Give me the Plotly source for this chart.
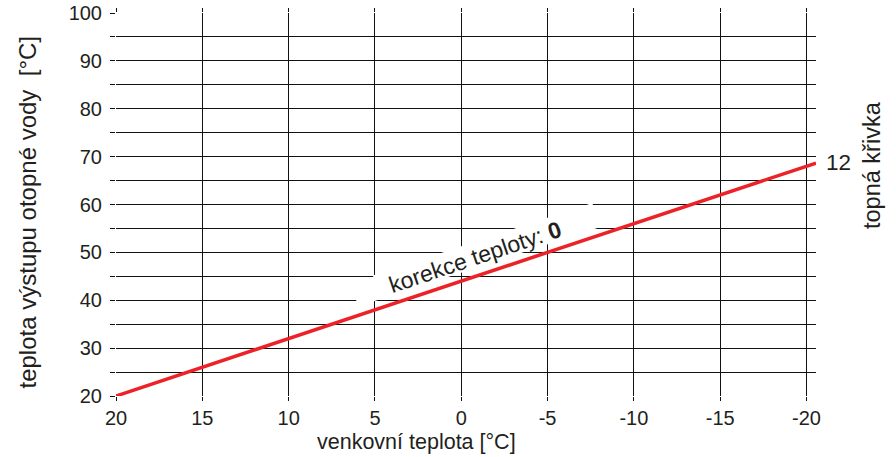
import plotly.graph_objects as go

# Heizkurve 12, Korrektur 0
venkovni = [20, -20.55]
vystup = [20, 68.66]

x_ticks = [20, 15, 10, 5, 0, -5, -10, -15, -20]
x_labels = ["20", "15", "10", "5", "0", "-5", "-10", "-15", "-20"]
y_ticks = [20, 25, 30, 35, 40, 45, 50, 55, 60, 65, 70, 75, 80, 85, 90, 95, 100]
y_labels = ["20", "", "30", "", "40", "", "50", "", "60", "", "70", "", "80", "", "90", "", "100"]

krivka = "12"
korekce = "0"

FONT = "Liberation Sans, Arial, sans-serif"
GRID = "#111111"
TXT = "#231f20"

L, R, T, B = 116, 80, 13, 61
W, H = 896, 457


def to_paper(px, py):
    # Bildpixel -> paper-Koordinaten der Zeichenfläche
    return (px - L) / (W - L - R), 1 - (py - T) / (H - T - B)


fig = go.Figure()
fig.add_trace(go.Scatter(
    x=venkovni, y=vystup, mode="lines",
    line=dict(color="#ec2227", width=3.5),
    hoverinfo="skip", showlegend=False,
))

# weisser Hintergrund hinter dem Beschriftungstext (zwischen Gitter und Linie)
fig.add_shape(
    type="path",
    path="M 5.04 45.27 L -7.59 60.31 L -8.06 55.30 L 6.43 38.17 Z",
    xref="x", yref="y",
    fillcolor="white", line=dict(width=0),
    layer="between",
)

fig.add_annotation(
    x=-0.8, y=49.0, xref="x", yref="y",
    text="korekce teploty: <b>" + korekce + "</b>",
    textangle=-18.6, showarrow=False,
    font=dict(family=FONT, size=23, color=TXT),
    xanchor="center", yanchor="middle",
)

px, py = to_paper(824, 163)
fig.add_annotation(
    x=px, y=py, xref="paper", yref="paper",
    text=krivka, showarrow=False, xanchor="left", yanchor="middle",
    font=dict(family=FONT, size=22.5, color=TXT),
)
px, py = to_paper(872, 165)
fig.add_annotation(
    x=px, y=py, xref="paper", yref="paper",
    text="topná křivka", textangle=-90, showarrow=False,
    xanchor="center", yanchor="middle",
    font=dict(family=FONT, size=23.5, color=TXT),
)
px, py = to_paper(416, 442)
fig.add_annotation(
    x=px, y=py, xref="paper", yref="paper",
    text="venkovní teplota [°C]", showarrow=False,
    xanchor="center", yanchor="middle",
    font=dict(family=FONT, size=21.5, color=TXT),
)
px, py = to_paper(27, 212.5)
fig.add_annotation(
    x=px, y=py, xref="paper", yref="paper",
    text="teplota výstupu otopné vody  [°C]", textangle=-90,
    showarrow=False, xanchor="center", yanchor="middle",
    font=dict(family=FONT, size=24, color=TXT),
)

fig.update_xaxes(
    range=[20, -20.55], tickvals=x_ticks, ticktext=x_labels,
    showgrid=True, gridcolor=GRID, gridwidth=1.4,
    ticks="outside", ticklen=4, tickcolor=GRID, tickwidth=1.4,
    mirror="ticks", showline=False, zeroline=False, automargin=False,
    tickfont=dict(family=FONT, size=20, color=TXT),
)
fig.update_yaxes(
    range=[20, 100], tickvals=y_ticks, ticktext=y_labels,
    showgrid=True, gridcolor=GRID, gridwidth=1.4,
    ticks="outside", ticklen=5, tickcolor=GRID, tickwidth=1.4,
    ticklabelstandoff=4,
    showline=False, zeroline=False, automargin=False,
    tickfont=dict(family=FONT, size=20, color=TXT),
)
fig.update_layout(
    width=W, height=H,
    margin=dict(l=L, r=R, t=T, b=B, autoexpand=False),
    plot_bgcolor="white", paper_bgcolor="white",
    showlegend=False,
)

fig.write_html(
    "out.html",
    config={"displayModeBar": False},
    post_script="document.body.style.margin='0';",
)
